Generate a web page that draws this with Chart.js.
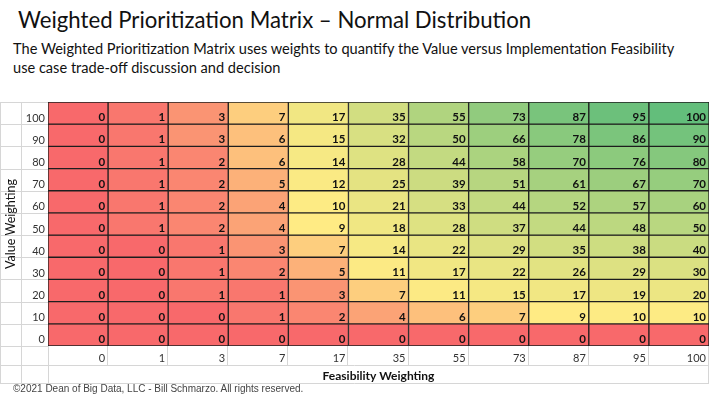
<!DOCTYPE html>
<html>
<head>
<meta charset="utf-8">
<script src="https://cdn.jsdelivr.net/npm/chart.js@4.4.1/dist/chart.umd.min.js"></script>
<style>
  body { margin: 0; background: #fff; width: 710px; height: 399px; position: relative; overflow: hidden; font-family: Lato, "Open Sans", sans-serif; }
  #title { position: absolute; left: 18px; top: 6px; font-size: 22.2px; color: #111; white-space: nowrap; }
  #sub { position: absolute; left: 13px; top: 39px; font-size: 14.6px; line-height: 19px; color: #111; }
  #foot { position: absolute; left: 13px; top: 383px; font-family: "Liberation Sans", Arial, sans-serif; font-size: 10px; color: #444; }
  #wrap { position: absolute; left: 0; top: 90px; width: 710px; height: 295px; }
</style>
</head>
<body>
<div id="title">Weighted Prioritization Matrix – Normal Distribution</div>
<div id="sub">The Weighted Prioritization Matrix uses weights to quantify the Value versus Implementation Feasibility<br>use case trade-off discussion and decision</div>
<div id="wrap"><canvas id="matrix"></canvas></div>
<div id="foot">©2021 Dean of Big Data, LLC - Bill Schmarzo. All rights reserved.</div>

<script>
// rows top to bottom, columns left to right
const valueWeights = [100, 90, 80, 70, 60, 50, 40, 30, 20, 10, 0];
const feasibilityWeights = ["0", "1", "3", "7", "17", "35", "55", "73", "87", "95", "100"];

const scores = [
  [0, 1, 3, 7, 17, 35, 55, 73, 87, 95, 100],
  [0, 1, 3, 6, 15, 32, 50, 66, 78, 86, 90],
  [0, 1, 2, 6, 14, 28, 44, 58, 70, 76, 80],
  [0, 1, 2, 5, 12, 25, 39, 51, 61, 67, 70],
  [0, 1, 2, 4, 10, 21, 33, 44, 52, 57, 60],
  [0, 1, 2, 4, 9, 18, 28, 37, 44, 48, 50],
  [0, 0, 1, 3, 7, 14, 22, 29, 35, 38, 40],
  [0, 0, 1, 2, 5, 11, 17, 22, 26, 29, 30],
  [0, 0, 1, 1, 3, 7, 11, 15, 17, 19, 20],
  [0, 0, 0, 1, 2, 4, 6, 7, 9, 10, 10],
  [0, 0, 0, 0, 0, 0, 0, 0, 0, 0, 0]
];

// excel style 3 colour scale: min red, median yellow, max green
const all = scores.flat().sort((a, b) => a - b);
const lo = all[0], hi = all[all.length - 1], mid = all[Math.floor(all.length / 2)];
const RED = [248, 105, 107], YEL = [255, 235, 132], GRN = [99, 190, 123];

function mix(a, b, t) {
  return "rgb(" + a.map((v, i) => Math.round(v + (b[i] - v) * t)).join(",") + ")";
}
function cellColor(v) {
  if (v <= mid) return mix(RED, YEL, (v - lo) / (mid - lo));
  return mix(YEL, GRN, (v - mid) / (hi - mid));
}

const half = 5;
const datasets = valueWeights.map((w, i) => ({
  data: feasibilityWeights.map((f, j) => ({ x: f, y: [w - half, w + half], score: scores[i][j] })),
  backgroundColor: ctx => cellColor(ctx.raw.score),
  borderColor: "#1e1e1e",
  borderWidth: 1,
  borderSkipped: false,
  grouped: false,
  barPercentage: 1,
  categoryPercentage: 1
}));

// numbers in the cells, bottom right like a spreadsheet
const cellText = {
  id: "cellText",
  afterDatasetsDraw(chart) {
    const c = chart.ctx;
    c.save();
    c.font = "bold 11.5px Lato";
    c.fillStyle = "#111";
    c.textAlign = "right";
    c.textBaseline = "alphabetic";
    chart.data.datasets.forEach((ds, i) => {
      chart.getDatasetMeta(i).data.forEach((el, j) => {
        const p = el.getProps(["x", "y", "base", "width"], true);
        c.fillText(String(ds.data[j].score), p.x + p.width / 2 - 3, Math.max(p.y, p.base) - 3);
      });
    });
    c.restore();
  }
};

// faint sheet gridlines around the labels
const sheetLines = {
  id: "sheetLines",
  beforeDraw(chart) {
    const c = chart.ctx, a = chart.chartArea, xs = chart.scales.x, ys = chart.scales.y;
    const tickRow = a.bottom + 19, titleRow = a.bottom + 37;
    c.save();
    c.strokeStyle = "#d6d6d6";
    c.lineWidth = 1;
    c.beginPath();
    // left margin columns
    [0.5, 21.5].forEach(x => { c.moveTo(x, a.top); c.lineTo(x, titleRow); });
    valueWeights.forEach(w => {
      const y = Math.round(ys.getPixelForValue(w - half)) + 0.5;
      c.moveTo(0, y); c.lineTo(a.left, y);
    });
    c.moveTo(0, a.top + 0.5); c.lineTo(a.left, a.top + 0.5);
    [tickRow, titleRow].forEach(y => { c.moveTo(0, y + 0.5); c.lineTo(a.right, y + 0.5); });
    // column dividers in the tick row
    feasibilityWeights.forEach((f, j) => {
      const x = Math.round(xs.getPixelForValue(j) + (xs.getPixelForValue(1) - xs.getPixelForValue(0)) / 2) - 0.5;
      c.moveTo(x, a.bottom); c.lineTo(x, tickRow);
    });
    c.moveTo(a.left + 0.5, a.bottom); c.lineTo(a.left + 0.5, titleRow);
    c.moveTo(a.right - 0.5, a.bottom); c.lineTo(a.right - 0.5, titleRow);
    c.stroke();
    c.restore();
  }
};

new Chart(document.getElementById("matrix"), {
  type: "bar",
  data: { labels: feasibilityWeights, datasets: datasets },
  plugins: [sheetLines, cellText],
  options: {
    responsive: true,
    maintainAspectRatio: false,
    animation: false,
    layout: { padding: { top: 12, right: 1, left: 0, bottom: 0 } },
    plugins: { legend: { display: false }, tooltip: { enabled: false } },
    scales: {
      x: {
        type: "category",
        grid: { display: false, drawTicks: false, tickLength: 0 },
        border: { display: false },
        ticks: { align: "end", labelOffset: 27, padding: 6, color: "#333", font: { family: "Lato", size: 11 } },
        title: { display: true, text: "Feasibility Weighting", color: "#111", padding: { top: 0, bottom: 2 }, font: { family: "Lato", size: 12, weight: "bold" } },
        afterFit: s => { s.height = 39; }
      },
      y: {
        type: "linear",
        min: -half,
        max: 100 + half,
        afterBuildTicks: s => { s.ticks = valueWeights.map(v => ({ value: v })); },
        grid: { display: false, drawTicks: false, tickLength: 0 },
        border: { display: false },
        ticks: { labelOffset: 5, padding: 3, color: "#333", font: { family: "Lato", size: 11 } },
        title: { display: true, text: "Value Weighting", color: "#111", padding: { top: 3, bottom: 0 }, font: { family: "Lato", size: 12.5 } },
        afterFit: s => { s.width = 48; }
      }
    }
  }
});
</script>
</body>
</html>
